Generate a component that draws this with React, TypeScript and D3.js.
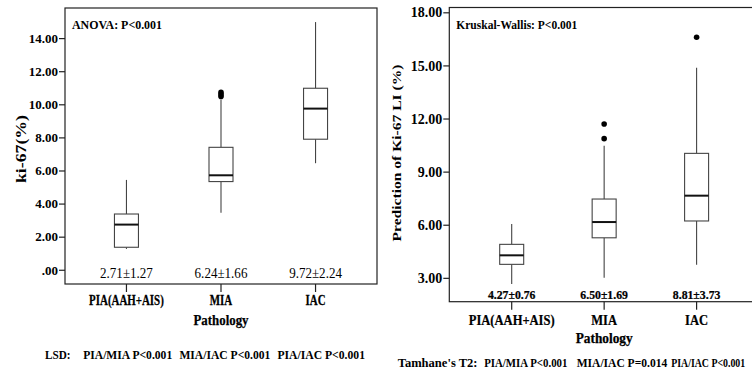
import React from "react";
import * as d3 from "d3";

const categories = ["PIA(AAH+AIS)", "MIA", "IAC"];

// left panel: ki-67 (%)
const leftMin = [1.29, 3.48, 6.47];
const leftQ1 = [1.39, 5.36, 7.92];
const leftMedian = [2.76, 5.74, 9.77];
const leftQ3 = [3.4, 7.43, 11.0];
const leftMax = [5.46, 10.3, 15.0];
const leftOutliers = [[], [10.5, 10.62, 10.75], []];
const leftMeans = ["2.71±1.27", "6.24±1.66", "9.72±2.24"];
const leftTicks = [0, 2, 4, 6, 8, 10, 12, 14];

// right panel: predicted Ki-67 LI (%)
const rightMin = [2.68, 3.03, 3.77];
const rightQ1 = [3.79, 5.29, 6.24];
const rightMedian = [4.3, 6.18, 7.67];
const rightQ3 = [4.92, 7.48, 10.06];
const rightMax = [6.07, 10.49, 14.9];
const rightOutliers = [[], [10.89, 11.72], [16.62]];
const rightMeans = ["4.27±0.76", "6.50±1.69", "8.81±3.73"];
const rightTicks = [3, 6, 9, 12, 15, 18];

const lsdLine = ["LSD:", "PIA/MIA P<0.001", "MIA/IAC P<0.001", "PIA/IAC P<0.001"];
const tamhaneLine = ["Tamhane's T2:", "PIA/MIA P<0.001", "MIA/IAC P=0.014", "PIA/IAC P<0.001"];

const FONT = "Liberation Serif, Times New Roman, serif";

// horizontally squeezed text (the source figure is slightly stretched vertically)
function SText(props: {
  x: number;
  y: number;
  sx: number;
  size: number;
  bold?: boolean;
  anchor?: "start" | "middle" | "end";
  children: React.ReactNode;
}) {
  return (
    <text
      transform={`translate(${props.x},${props.y}) scale(${props.sx},1)`}
      fontSize={props.size}
      fontWeight={props.bold ? "bold" : "normal"}
      textAnchor={props.anchor || "start"}
      stroke={props.bold ? "#000" : "none"}
      strokeWidth={props.bold ? 0.25 : 0}
    >
      {props.children}
    </text>
  );
}

type PanelProps = {
  x0: number;
  x1: number;
  y0: number;
  y1: number;
  yDomain: [number, number];
  ticks: number[];
  tickFmt: (d: number) => string;
  tickSize: number;
  pad: number;
  mins: number[];
  q1s: number[];
  medians: number[];
  q3s: number[];
  maxs: number[];
  outliers: number[][];
  means: string[];
  meanY: number;
  meanBold: boolean;
  meanSize: number;
  meanSx: number;
  catY: number;
  catSize: number;
  catSx: number;
  title: string;
  titleSize: number;
  titleLen: number;
  yLabel: string;
  yLabelX: number;
  yLabelY: number;
  yLabelSize: number;
  yLabelLen: number;
  xLabelY: number;
  xLabelSize: number;
  xLabelLen: number;
};

function Panel(p: PanelProps) {
  const y = d3.scaleLinear().domain(p.yDomain).range([p.y1, p.y0]);
  const x = d3.scalePoint<string>().domain(categories).range([p.x0, p.x1]).padding(p.pad);
  const bw = 24;

  return (
    <g fontFamily={FONT}>
      <rect x={p.x0} y={p.y0} width={p.x1 - p.x0} height={p.y1 - p.y0} fill="none" stroke="#222" strokeWidth={1.2} />

      {p.ticks.map((t) => (
        <g key={t}>
          <line x1={p.x0 - 6} x2={p.x0} y1={y(t)} y2={y(t)} stroke="#222" strokeWidth={1.2} />
          <text x={p.x0 - 7} y={y(t)} dy="0.33em" textAnchor="end" fontWeight="bold" fontSize={p.tickSize}>
            {p.tickFmt(t)}
          </text>
        </g>
      ))}

      {categories.map((c, i) => {
        const cx = x(c)!;
        return (
          <g key={c}>
            <line x1={cx} x2={cx} y1={y(p.maxs[i])} y2={y(p.q3s[i])} stroke="#444" strokeWidth={1.1} />
            <line x1={cx} x2={cx} y1={y(p.q1s[i])} y2={y(p.mins[i])} stroke="#444" strokeWidth={1.1} />
            <rect
              x={cx - bw / 2}
              y={y(p.q3s[i])}
              width={bw}
              height={y(p.q1s[i]) - y(p.q3s[i])}
              fill="#fff"
              stroke="#444"
              strokeWidth={1.1}
            />
            <line x1={cx - bw / 2} x2={cx + bw / 2} y1={y(p.medians[i])} y2={y(p.medians[i])} stroke="#111" strokeWidth={2} />
            {p.outliers[i].map((o, j) => (
              <circle key={j} cx={cx} cy={y(o)} r={2.8} fill="#000" />
            ))}
            <SText x={cx} y={p.meanY} sx={p.meanSx} size={p.meanSize} bold={p.meanBold} anchor="middle">
              {p.means[i]}
            </SText>
            <line x1={cx} x2={cx} y1={p.y1} y2={p.y1 + 8} stroke="#222" strokeWidth={1.2} />
            <SText x={cx} y={p.catY} sx={p.catSx} size={p.catSize} bold anchor="middle">
              {c}
            </SText>
          </g>
        );
      })}

      <text
        x={x("MIA")!}
        y={p.xLabelY}
        textAnchor="middle"
        fontWeight="bold"
        fontSize={p.xLabelSize}
        textLength={p.xLabelLen}
        lengthAdjust="spacingAndGlyphs"
        stroke="#000"
        strokeWidth={0.25}
      >
        Pathology
      </text>
      <text
        x={p.x0 + 7}
        y={29}
        fontWeight="bold"
        fontSize={p.titleSize}
        textLength={p.titleLen}
        lengthAdjust="spacingAndGlyphs"
      >
        {p.title}
      </text>
      <text
        transform={`translate(${p.yLabelX},${p.yLabelY}) rotate(-90)`}
        textAnchor="middle"
        fontWeight="bold"
        fontSize={p.yLabelSize}
        textLength={p.yLabelLen}
        lengthAdjust="spacingAndGlyphs"
      >
        {p.yLabel}
      </text>
    </g>
  );
}

function NoteLine(props: { parts: string[]; xs: number[]; lens: number[]; y: number; size: number }) {
  return (
    <g fontFamily={FONT} fontWeight="bold" fontSize={props.size}>
      {props.parts.map((s, i) => (
        <text key={i} x={props.xs[i]} y={props.y} textLength={props.lens[i]} lengthAdjust="spacingAndGlyphs">
          {s}
        </text>
      ))}
    </g>
  );
}

export default function App() {
  const fmtLeft = (d: number) => (d === 0 ? ".00" : d3.format(".2f")(d));
  const fmtRight = (d: number) => d3.format(".2f")(d);

  return (
    <svg width={752} height={375} style={{ position: "absolute", left: 0, top: 0, background: "#fff" }}>
      <rect x={0} y={0} width={752} height={375} fill="#fff" />
      <Panel
        x0={65}
        x1={377}
        y0={8}
        y1={284}
        yDomain={[-0.83, 15.85]}
        ticks={leftTicks}
        tickFmt={fmtLeft}
        tickSize={13}
        pad={0.65}
        mins={leftMin}
        q1s={leftQ1}
        medians={leftMedian}
        q3s={leftQ3}
        maxs={leftMax}
        outliers={leftOutliers}
        means={leftMeans}
        meanY={278}
        meanBold={false}
        meanSize={15}
        meanSx={0.87}
        catY={305}
        catSize={14}
        catSx={0.78}
        title="ANOVA: P<0.001"
        titleSize={12.5}
        titleLen={90}
        yLabel="ki-67(%)"
        yLabelX={26}
        yLabelY={149}
        yLabelSize={14}
        yLabelLen={68}
        xLabelY={325}
        xLabelSize={15}
        xLabelLen={55}
      />
      <Panel
        x0={449.3}
        x1={759}
        y0={7.5}
        y1={301.7}
        yDomain={[1.68, 18.3]}
        ticks={rightTicks}
        tickFmt={fmtRight}
        tickSize={14}
        pad={0.675}
        mins={rightMin}
        q1s={rightQ1}
        medians={rightMedian}
        q3s={rightQ3}
        maxs={rightMax}
        outliers={rightOutliers}
        means={rightMeans}
        meanY={299}
        meanBold={true}
        meanSize={12.5}
        meanSx={0.94}
        catY={325}
        catSize={15.5}
        catSx={0.81}
        title="Kruskal-Wallis: P<0.001"
        titleSize={12.5}
        titleLen={121}
        yLabel="Prediction of Ki-67 LI (%)"
        yLabelX={401}
        yLabelY={153}
        yLabelSize={13.5}
        yLabelLen={177}
        xLabelY={343}
        xLabelSize={14}
        xLabelLen={57}
      />

      <NoteLine parts={lsdLine} xs={[45, 83.2, 179.4, 277.4]} lens={[25.5, 89, 91, 87.6]} y={359} size={13} />
      <NoteLine parts={tamhaneLine} xs={[397.7, 484.2, 576.7, 671.2]} lens={[79.8, 83.2, 90.5, 74]} y={367} size={11.5} />
    </svg>
  );
}
